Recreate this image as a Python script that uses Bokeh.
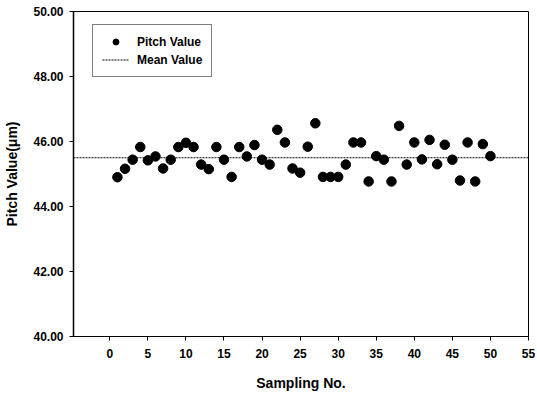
from bokeh.plotting import figure
from bokeh.models import Range1d, FixedTicker, Legend, LegendItem, CustomJSTickFormatter, NumeralTickFormatter
from bokeh.embed import file_html
from bokeh.resources import INLINE

sampling_no = list(range(1, 51))
pitch_value = [44.90, 45.16, 45.44, 45.83, 45.42, 45.54, 45.17, 45.44, 45.83, 45.96,
               45.83, 45.29, 45.15, 45.83, 45.44, 44.91, 45.83, 45.54, 45.89, 45.44,
               45.29, 46.36, 45.97, 45.17, 45.04, 45.84, 46.56, 44.91, 44.91, 44.91,
               45.29, 45.97, 45.97, 44.77, 45.55, 45.44, 44.77, 46.48, 45.29, 45.97,
               45.45, 46.05, 45.30, 45.90, 45.44, 44.80, 45.97, 44.77, 45.92, 45.55]
mean_value = 45.50
mean_x = [-4.77, 55]
x_ticks = [0, 5, 10, 15, 20, 25, 30, 35, 40, 45, 50, 55]
y_ticks = [40, 42, 44, 46, 48, 50]

FONT = "Liberation Sans"

p = figure(width=537, height=395, output_backend="svg", toolbar_location=None,
           x_range=Range1d(-4.77, 55), y_range=Range1d(40, 50),
           min_border_left=73, min_border_right=9, min_border_top=11, min_border_bottom=59)

p.xgrid.visible = False
p.ygrid.visible = False
p.background_fill_color = "white"
p.border_fill_color = "white"
p.outline_line_color = "black"
p.outline_line_width = 1
p.outline_line_alpha = 1

mean_r = p.line([mean_x[0], mean_x[1]], [mean_value, mean_value], line_color="black",
                line_width=1, line_dash="2 1")
pts = p.scatter(sampling_no, pitch_value, size=9.5, fill_color="black", line_color="black")

for ax in (p.xaxis[0], p.yaxis[0]):
    ax.axis_line_color = "black"
    ax.major_tick_line_color = "black"
    ax.minor_tick_line_color = None
    ax.major_tick_in = 0
    ax.major_tick_out = 4
    ax.major_label_text_font = FONT
    ax.major_label_text_font_style = "bold"
    ax.major_label_text_font_size = "12px"
    ax.major_label_text_color = "black"
    ax.axis_label_text_font = FONT
    ax.axis_label_text_font_style = "bold"
    ax.axis_label_text_font_size = "14px"
    ax.axis_label_text_color = "black"

p.xaxis.ticker = FixedTicker(ticks=x_ticks)
p.yaxis.ticker = FixedTicker(ticks=y_ticks)
p.yaxis.formatter = NumeralTickFormatter(format="0.00")
p.xaxis.axis_label = "Sampling No."
p.yaxis.axis_label = "Pitch Value(\u03bcm)"
p.yaxis.axis_line_width = 1.5
p.xaxis.major_label_standoff = 8
p.xaxis.axis_label_standoff = 14
p.yaxis.major_label_standoff = 6
p.yaxis.axis_label_standoff = 10

legend = Legend(items=[LegendItem(label="Pitch Value", renderers=[pts]),
                       LegendItem(label="Mean Value", renderers=[mean_r])],
                location=(19, 259), margin=0, padding=9, spacing=3,
                glyph_width=27, glyph_height=15, label_height=15, label_standoff=8,
                label_text_font=FONT, label_text_font_style="bold", label_text_font_size="12px",
                label_text_color="black", border_line_color="black", border_line_width=1,
                background_fill_alpha=1)
p.add_layout(legend, "center")

open("out.html", "w").write(file_html(p, INLINE))
